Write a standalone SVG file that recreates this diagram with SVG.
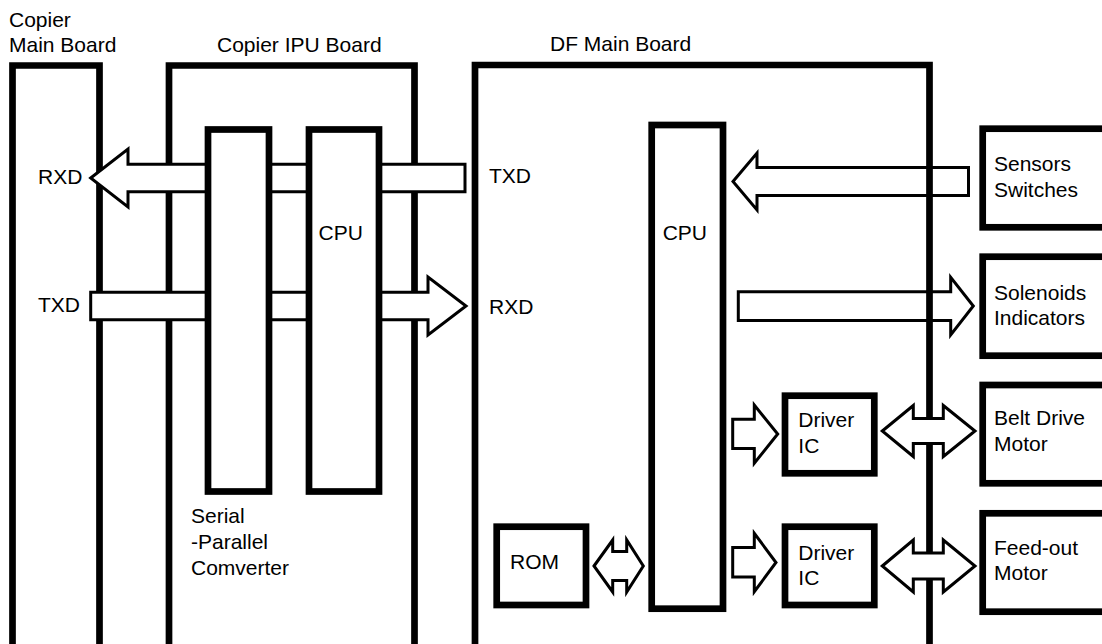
<svg xmlns="http://www.w3.org/2000/svg" width="1102" height="644" viewBox="0 0 1102 644">
<style>
.board{fill:none;stroke:#000;stroke-width:6.7}
.box{fill:#fff;stroke:#000;stroke-width:6.7}
.arr{fill:#fff;stroke:#000;stroke-width:3;stroke-linejoin:miter}
.arr-open{fill:none;stroke:#000;stroke-width:3;stroke-linejoin:miter}
text{font-family:"Liberation Sans",Arial,sans-serif;font-size:21px;fill:#000}
</style>
<rect x="0" y="0" width="1102" height="644" fill="#fff"/>
<g id="copier-main-board">
<path class="board" d="M12.5,660 V65.5 H99.5 V660"/>
<text x="9" y="27">Copier</text>
<text x="9" y="52">Main Board</text>
<text x="38" y="184">RXD</text>
<text x="38" y="312">TXD</text>
</g>
<g id="copier-ipu-board">
<path class="board" d="M169,660 V65.5 H414.5 V660"/>
<text x="217" y="52">Copier IPU Board</text>
</g>
<g id="df-main-board">
<path class="board" d="M475,660 V65 H929.5 V660"/>
<text x="550" y="51">DF Main Board</text>
<text x="489" y="183">TXD</text>
<text x="489" y="314">RXD</text>
</g>
<g id="connectors">
<polygon class="arr" points="90.7,178 128,149 128,164.2 465,164.2 465,191.8 128,191.8 128,207"/>
<polygon class="arr" points="90.7,292.2 428,292.2 428,277 466,306 428,335 428,319.8 90.7,319.8"/>
<polygon class="arr-open" points="733,181.5 757,153 757,167.5 968.5,167.5 968.5,195.5 757,195.5 757,210"/>
<polygon class="arr-open" points="738.3,291.7 950.7,291.7 950.7,277.3 973.3,306 950.7,335 950.7,320.5 738.3,320.5"/>
<polygon class="arr" points="732.7,419.2 754.3,419.2 754.3,405 777.7,434 754.3,463.3 754.3,448.6 732.7,448.6"/>
<polygon class="arr" points="732.7,547.5 754.3,547.5 754.3,533.3 776,562.5 754.3,591.7 754.3,577 732.7,577"/>
<polygon class="arr" points="882.3,431 913.3,405.5 913.3,418.5 943.3,418.5 943.3,405.5 975,431 943.3,456.5 943.3,443.5 913.3,443.5 913.3,456.5"/>
<polygon class="arr" points="882.3,566 913.3,540 913.3,553 943.3,553 943.3,540 975,566 943.3,592 943.3,579 913.3,579 913.3,592"/>
<polygon class="arr" points="594,566 612.7,540 612.7,551.5 626.7,551.5 626.7,540 643.3,566 626.7,592 626.7,580.5 612.7,580.5 612.7,592"/>
</g>
<g id="serial-parallel-converter">
<rect class="box" x="208" y="129.5" width="61" height="362"/>
<text x="191" y="523">Serial</text>
<text x="191" y="548.5">-Parallel</text>
<text x="191" y="575">Comverter</text>
</g>
<g id="ipu-cpu">
<rect class="box" x="309" y="129.5" width="70" height="362"/>
<text x="318.5" y="240">CPU</text>
</g>
<g id="df-cpu">
<rect class="box" x="651.7" y="125" width="71.3" height="483.7"/>
<text x="662.7" y="240">CPU</text>
</g>
<g id="rom">
<rect class="box" x="496.7" y="526.7" width="89.3" height="78.3"/>
<text x="510" y="569">ROM</text>
</g>
<g id="driver-ic-1">
<rect class="box" x="785" y="395.7" width="89.3" height="77.6"/>
<text x="798.3" y="427">Driver</text>
<text x="798.3" y="453">IC</text>
</g>
<g id="driver-ic-2">
<rect class="box" x="785" y="526.7" width="89.3" height="78.3"/>
<text x="798.3" y="559.5">Driver</text>
<text x="798.3" y="584.5">IC</text>
</g>
<g id="sensors-switches">
<rect class="box" x="982.7" y="128.7" width="140" height="98.6"/>
<text x="994" y="171">Sensors</text>
<text x="994" y="197">Switches</text>
</g>
<g id="solenoids-indicators">
<rect class="box" x="982.7" y="256.7" width="140" height="99"/>
<text x="994" y="299.5">Solenoids</text>
<text x="994" y="324.5">Indicators</text>
</g>
<g id="belt-drive-motor">
<rect class="box" x="982.7" y="385" width="140" height="98.3"/>
<text x="994" y="425">Belt Drive</text>
<text x="994" y="451">Motor</text>
</g>
<g id="feed-out-motor">
<rect class="box" x="982.7" y="513.3" width="140" height="98.4"/>
<text x="994" y="554.5">Feed-out</text>
<text x="994" y="580">Motor</text>
</g>
</svg>
